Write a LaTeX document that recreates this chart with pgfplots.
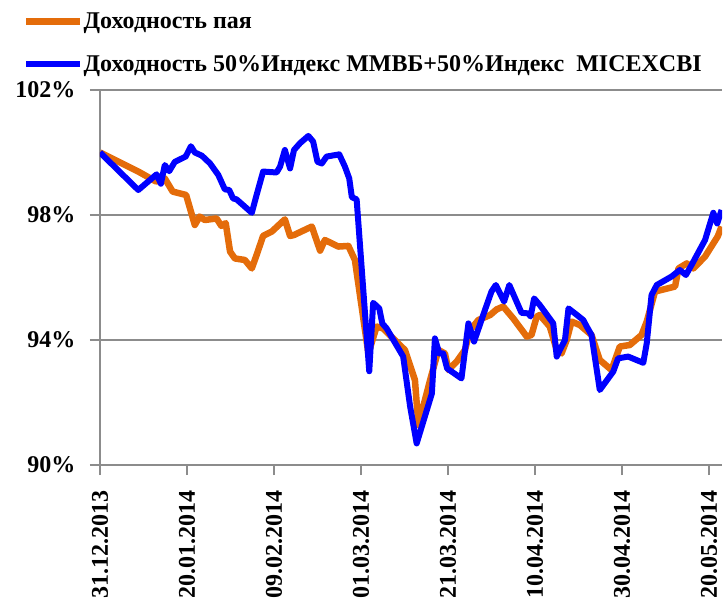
\documentclass[border=0pt]{standalone}
\usepackage{fontspec}
\setmainfont{Liberation Serif}
\usepackage{pgfplots}
\pgfplotsset{compat=1.18}
\definecolor{orng}{HTML}{E46C0A}
\definecolor{axgray}{HTML}{8C8C8C}
\begin{document}
\begin{tikzpicture}[x=1bp,y=1bp]
\begin{axis}[
  at={(0,0)}, anchor=south west,
  scale only axis, width=622bp, height=375bp,
  xmin=0, xmax=143, ymin=90, ymax=102,
  axis x line*=bottom, axis y line*=left,
  axis line style={-, draw=axgray, line width=2bp},
  ymajorgrids, grid style={draw=axgray, line width=2bp},
  ytick={90,94,98,102},
  xtick={0,20,40,60,80,100,120,140},
  xticklabels={31.12.2013,20.01.2014,09.02.2014,01.03.2014,21.03.2014,10.04.2014,30.04.2014,20.05.2014},
  tick align=outside, major tick length=10bp,
  tick style={draw=axgray, line width=2bp},
  /pgf/number format/assume math mode=true,
  yticklabel={\pgfmathprintnumber{\tick}\%},
  yticklabel style={font=\fontsize{24bp}{28bp}\selectfont\bfseries, xshift=-11bp},
  xticklabel style={yshift=-12bp, rotate=90, anchor=east, font=\fontsize{24bp}{28bp}\selectfont\bfseries},
  legend cell align=left,
  legend style={draw=none, fill=none, at={(axis description cs:0,1)}, anchor=south west,
    xshift=-80bp, yshift=15bp, row sep=25bp,
    font=\fontsize{24bp}{28bp}\selectfont\bfseries,
    nodes={inner sep=0pt}, /tikz/every even column/.style={column sep=3bp}},
  legend image code/.code={\draw[#1] (0bp,0bp) -- (54bp,0bp);},
  line join=round,
]
\addplot[orng, line width=6.5bp] coordinates {
(0,100.0) (8.8,99.39) (12.9,99.07) (14.9,99.17) (16.7,98.75) (19.8,98.64)
(21.8,97.68) (22.9,97.95) (24.1,97.84) (26.8,97.89) (27.9,97.65) (28.9,97.74)
(29.9,96.83) (31.0,96.61) (33.3,96.56) (34.9,96.29) (36.0,96.72) (37.5,97.33)
(39.5,97.47) (42.5,97.86) (43.7,97.33) (44.6,97.36) (48.7,97.63) (50.6,96.86)
(51.7,97.2) (54.8,96.99) (57.1,97.01) (58.6,96.56) (61.7,93.57) (63.6,94.43)
(65.1,94.37) (70.1,93.68) (72.4,92.72) (73.2,91.28) (75.9,92.72) (77.8,93.68)
(79.3,93.57) (80.1,93.04) (82.0,93.31) (83.9,93.68) (85.1,94.32) (87.0,94.64)
(89.7,94.8) (91.2,94.98) (92.7,95.07) (95.0,94.69) (98.1,94.11) (99.2,94.16)
(100.4,94.75) (101.1,94.8) (103.4,94.43) (105.0,93.68) (106.1,93.57) (107.3,94.0)
(108.4,94.59) (110.3,94.48) (113.0,94.16) (114.9,93.36) (117.6,93.04) (119.5,93.79)
(121.8,93.84) (124.5,94.16) (125.7,94.59) (127.6,95.55) (132.2,95.71) (133.0,96.29)
(134.9,96.45) (136.4,96.29) (139.1,96.67) (141.0,97.09) (142.0,97.31) (142.9,97.63)
};
\addlegendentry{Доходность пая}
\addplot[blue, line width=6bp] coordinates {
(0,100.0) (8.8,98.8) (13.0,99.3) (14.0,99.0) (14.9,99.6) (15.9,99.4) (17.2,99.7)
(19.7,99.87) (20.9,100.2) (21.8,100.0) (23.4,99.9) (25.3,99.65) (27.2,99.28)
(28.7,98.82) (29.7,98.8) (30.6,98.53) (31.4,98.5) (34.9,98.07) (36.0,98.64)
(37.5,99.39) (40.6,99.36) (41.4,99.55) (42.5,100.08) (43.7,99.49) (44.6,100.08)
(46.0,100.3) (47.9,100.53) (49.0,100.35) (50.0,99.7) (51.0,99.65) (52.1,99.87)
(55.0,99.94) (56.3,99.55) (57.3,99.17) (57.9,98.57) (59.0,98.5) (61.9,93.0)
(62.8,95.19) (64.2,95.01) (64.9,94.53) (65.9,94.37) (69.7,93.47) (71.3,91.87)
(72.8,90.69) (76.3,92.29) (77.0,94.05) (78.0,93.57) (78.9,93.57) (79.8,93.09)
(83.1,92.77) (84.7,94.53) (86.0,93.95) (88.5,94.96) (90.0,95.55) (91.0,95.76)
(92.9,95.23) (94.1,95.76) (96.9,94.87) (98.5,94.85) (99.0,94.75) (99.8,95.33)
(101.1,95.12) (104.2,94.53) (105.0,93.47) (105.7,93.68) (106.9,94.0) (107.7,95.01)
(109.2,94.85) (111.1,94.64) (111.9,94.43) (113.0,94.16) (114.9,92.4) (118.0,92.99)
(119.1,93.41) (121.4,93.47) (124.9,93.27) (125.7,93.9) (126.8,95.44) (128.0,95.76)
(131.4,96.03) (133.3,96.24) (134.7,96.08) (136.0,96.4) (139.1,97.2) (141.0,98.07)
(141.9,97.73) (142.9,98.16)
};
\addlegendentry{Доходность 50\%Индекс ММВБ+50\%Индекс\ \ MICEXCBI}
\end{axis}
\pgfresetboundingbox
\useasboundingbox (-100,-143) rectangle (623,465);
\end{tikzpicture}
\end{document}
